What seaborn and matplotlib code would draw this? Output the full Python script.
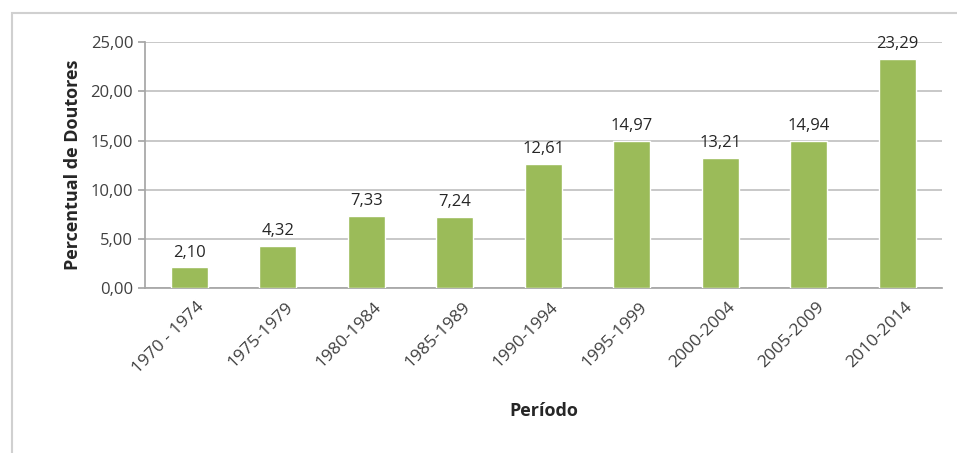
import matplotlib
matplotlib.use("Agg")
import matplotlib.pyplot as plt
import seaborn as sns
import pandas as pd
from matplotlib.patches import Rectangle

# ==============================
# Data
# ==============================
periodos = ["1970 - 1974", "1975-1979", "1980-1984", "1985-1989", "1990-1994",
            "1995-1999", "2000-2004", "2005-2009", "2010-2014"]
percentual = [2.10, 4.32, 7.33, 7.24, 12.61, 14.97, 13.21, 14.94, 23.29]

df = pd.DataFrame({"periodo": periodos, "percentual": percentual})

sns.set_theme(style="white")
plt.rcParams["font.family"] = ["Open Sans", "DejaVu Sans"]

fig = plt.figure(figsize=(9.57, 4.53), dpi=100)
ax = fig.add_axes([0.1515, 0.364, 0.8325, 0.543])

sns.barplot(data=df, x="periodo", y="percentual", color="#9BBB59",
            width=0.42, saturation=1, ax=ax, zorder=3)

# value labels
for i, v in enumerate(percentual):
    ax.text(i, v + 0.7, f"{v:.2f}".replace(".", ","), ha="center", va="bottom",
            fontsize=12, color="#262626")

ax.set_ylim(0, 25)
ax.set_xlim(-0.5, len(periodos) - 0.5)
ax.set_yticks([0, 5, 10, 15, 20, 25])
ax.set_yticklabels([f"{t:.2f}".replace(".", ",") for t in [0, 5, 10, 15, 20, 25]],
                   fontsize=12, color="#404040")
ax.yaxis.grid(True, color="#BFBFBF", linewidth=1.2, zorder=0)
ax.set_axisbelow(True)

ax.set_xticks([i + 0.08 for i in range(len(periodos))])
ax.set_xticklabels(periodos, rotation=45, ha="right", rotation_mode="anchor",
                   fontsize=12.5, color="#404040")
ax.tick_params(axis="x", length=0, pad=8)
# minor ticks between categories
ax.set_xticks([i - 0.5 for i in range(len(periodos) + 1)], minor=True)
ax.tick_params(axis="x", which="minor", length=5, color="#A6A6A6", direction="out")
ax.tick_params(axis="y", length=5, color="#A6A6A6", direction="out", left=True)

for s in ["top", "right"]:
    ax.spines[s].set_visible(False)
ax.spines["left"].set_color("#A6A6A6")
ax.spines["bottom"].set_color("#A6A6A6")

ax.set_xlabel("Período", fontsize=13, fontweight="bold", color="#262626", labelpad=18)
ax.set_ylabel("Percentual de Doutores", fontsize=13, fontweight="bold", color="#262626",
              labelpad=6)

# outer chart border
fig.patches.append(Rectangle((12 / 957, -0.05), 1.1, 1 - 13 / 453 + 0.05,
                             transform=fig.transFigure, fill=False,
                             edgecolor="#D0D0D0", linewidth=1.5))

fig.savefig("out.png", dpi=100)
